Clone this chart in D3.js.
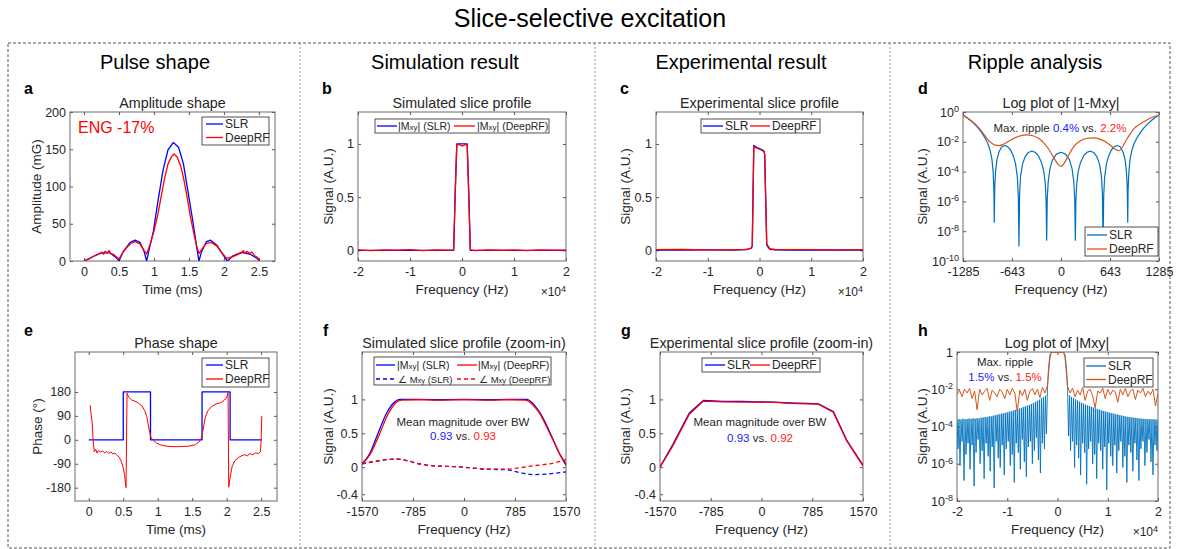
<!DOCTYPE html>
<html>
<head>
<meta charset="utf-8">
<script src="https://cdn.jsdelivr.net/npm/d3@7"></script>
<style>
  body { margin: 0; background: #fff; }
  svg text { font-family: Arial, "Liberation Sans", sans-serif; fill: #262626; }
</style>
</head>
<body>
<svg id="fig" width="1178" height="549"></svg>
<script>
// ---------- data ----------
// a: amplitude shape (time ms, mG)
const slrAmp = [[0,0],[0.13,6],[0.25,11],[0.37,11],[0.47,3.6],[0.5,0],[0.56,12.5],[0.66,25],[0.73,28],[0.8,25],[0.86,12.5],[0.895,0],
  [0.94,19],[0.99,39],[1.06,82],[1.13,122],[1.2,149],[1.276,159],[1.35,153],[1.42,131],[1.49,91],[1.56,51],[1.61,19],[1.643,0],
  [1.68,12.5],[1.75,26],[1.81,28],[1.9,21],[1.99,8],[2.05,0],[2.13,7],[2.25,11.6],[2.37,9.4],[2.47,3.6],[2.51,0]];
const deepAmp = [[0,0],[0.08,3],[0.15,7],[0.22,10],[0.26,12],[0.28,9],[0.3,13],[0.33,11],[0.36,14],[0.38,10],[0.42,9],[0.47,5],[0.5,2.7],
  [0.56,12],[0.62,19],[0.68,24],[0.73,26],[0.8,23],[0.86,14],[0.895,9.4],[0.95,24],[1.0,40],[1.05,60],[1.1,85],[1.15,110],[1.2,130],
  [1.25,140],[1.286,143.6],[1.33,140],[1.38,128],[1.42,113],[1.47,88],[1.52,60],[1.58,32],[1.62,17],[1.643,10],[1.7,18],[1.75,23.7],
  [1.82,25],[1.9,20],[1.97,11],[2.04,3.6],[2.13,5.8],[2.2,9],[2.25,11],[2.28,14],[2.3,10],[2.33,13],[2.37,10],[2.4,12],[2.44,7],[2.48,5],[2.51,0]];

// b: simulated slice profile (freq x1e4 Hz, signal)
const slrSim = [[-2,0],[-0.16,0],[-0.13,0.55],[-0.1,1],[0.1,1],[0.13,0.55],[0.16,0],[2,0]];
const deepSim = [[-2,0.004],[-1.75,-0.003],[-1.5,0.005],[-1.25,0.002],[-1,0.006],[-0.75,-0.002],[-0.5,0.004],[-0.25,0.003],[-0.16,0.005],
  [-0.13,0.55],[-0.1,0.99],[-0.05,0.995],[0,0.98],[0.05,0.99],[0.1,0.995],[0.13,0.5],[0.16,0.004],[0.25,-0.002],[0.5,0.005],
  [0.75,0.001],[1,0.004],[1.25,-0.002],[1.5,0.005],[1.75,0.002],[2,0.003]];

// c: experimental slice profile
const slrExp = [[-2,0.003],[-1.5,0.002],[-1,0.004],[-0.5,0.003],[-0.25,0.008],[-0.16,0.02],[-0.14,0.04],[-0.11,0.985],[-0.05,0.965],
  [0,0.955],[0.05,0.945],[0.09,0.93],[0.1,0.9],[0.14,0.05],[0.2,0.01],[0.3,0.005],[0.6,0.003],[1,0.002],[1.5,0.003],[2,0.002]];
const deepExp = [[-2,0.006],[-1.5,0.008],[-1,0.005],[-0.5,0.007],[-0.25,0.01],[-0.16,0.022],[-0.14,0.045],[-0.11,0.975],[-0.05,0.96],
  [0,0.95],[0.05,0.94],[0.09,0.925],[0.1,0.9],[0.14,0.06],[0.2,0.015],[0.3,0.008],[0.6,0.006],[1,0.007],[1.5,0.005],[2,0.006]];

// d: log plot of |1-Mxy| (Hz, log10 signal)
const rippleSlr = [[-1285,-0.2],[-1240,-0.35],[-1190,-0.55],[-1140,-0.78],[-1090,-1.05],[-1040,-1.38],[-1000,-1.7],[-960,-2.1],[-930,-2.55],
  [-905,-3.2],[-890,-4.0],[-880,-5.2],[-875,-7.4],[-868,-5.0],[-858,-4.0],[-840,-3.2],[-815,-2.7],[-780,-2.35],[-740,-2.25],[-700,-2.32],
  [-660,-2.55],[-625,-2.95],[-595,-3.5],[-572,-4.4],[-560,-5.6],[-551,-9.0],[-543,-5.5],[-530,-4.3],[-505,-3.5],[-470,-3.0],[-430,-2.72],
  [-385,-2.63],[-340,-2.7],[-295,-2.95],[-255,-3.4],[-225,-4.0],[-205,-4.9],[-195,-6.0],[-188,-8.6],[-180,-5.8],[-168,-4.7],[-145,-3.8],
  [-110,-3.2],[-60,-2.83],[0,-2.7],[60,-2.83],[110,-3.2],[145,-3.8],[168,-4.7],[180,-5.8],[188,-8.6],[195,-6.0],[205,-4.9],[225,-4.0],
  [255,-3.4],[295,-2.95],[340,-2.7],[385,-2.63],[430,-2.72],[470,-3.0],[505,-3.5],[530,-4.3],[543,-5.5],[551,-9.0],[560,-5.6],[572,-4.4],
  [595,-3.5],[625,-2.95],[660,-2.55],[700,-2.32],[740,-2.25],[780,-2.35],[815,-2.7],[840,-3.2],[858,-4.0],[868,-5.0],[875,-7.4],[880,-5.2],
  [890,-4.0],[905,-3.2],[930,-2.55],[960,-2.1],[1000,-1.7],[1040,-1.38],[1090,-1.05],[1140,-0.78],[1190,-0.55],[1240,-0.35],[1285,-0.2]];
const rippleDeep = [[-1285,-0.2],[-1200,-0.5],[-1106,-0.9],[-1040,-1.3],[-975,-1.75],[-920,-2.05],[-865,-2.22],[-810,-2.25],[-750,-2.15],
  [-680,-1.95],[-600,-1.72],[-520,-1.58],[-450,-1.53],[-380,-1.58],[-300,-1.75],[-230,-2.05],[-160,-2.5],[-90,-3.1],[-40,-3.5],[0,-3.65],
  [40,-3.45],[100,-2.9],[170,-2.3],[250,-1.95],[330,-1.78],[424,-1.73],[500,-1.8],[580,-1.98],[650,-2.25],[710,-2.5],[765,-2.6],
  [810,-2.3],[860,-1.85],[910,-1.45],[960,-1.1],[1040,-0.8],[1120,-0.55],[1200,-0.35],[1285,-0.2]];

// e: phase shape (time ms, degrees)
const slrPhase = [[0,0],[0.5,0],[0.5,180],[0.895,180],[0.895,0],[1.643,0],[1.643,180],[2.05,180],[2.05,0],[2.51,0]];
const deepPhase = [[0.02,130],[0.03,105],[0.035,95],[0.05,60],[0.06,10],[0.07,-20],[0.08,-45],[0.1,-35],[0.12,-50],[0.14,-40],[0.17,-46],
  [0.2,-42],[0.23,-49],[0.26,-44],[0.29,-51],[0.32,-46],[0.35,-53],[0.38,-50],[0.41,-58],[0.44,-65],[0.47,-80],[0.5,-105],[0.52,-135],
  [0.54,-180],[0.555,175],[0.58,160],[0.62,150],[0.67,145],[0.72,138],[0.77,128],[0.81,110],[0.84,90],[0.87,45],[0.9,10],[0.93,0],
  [0.98,-12],[1.05,-20],[1.15,-25],[1.3,-26],[1.45,-24],[1.55,-18],[1.6,-8],[1.63,5],[1.66,40],[1.69,85],[1.73,110],[1.78,125],
  [1.85,135],[1.92,140],[1.97,150],[2.0,160],[2.02,178],[2.03,-178],[2.05,-140],[2.08,-100],[2.12,-78],[2.18,-65],[2.22,-60],[2.26,-56],
  [2.3,-60],[2.34,-52],[2.38,-56],[2.42,-49],[2.46,-52],[2.49,-45],[2.5,0],[2.51,90]];

// f: simulated slice profile zoom-in (Hz)
const slrMagZoom = [[-1570,0.05],[-1450,0.2],[-1344,0.45],[-1190,0.8],[-1080,0.95],[-985,1.0],[-700,1.0],[-400,0.995],[0,1.0],[400,0.995],
  [700,1.0],[965,1.0],[1070,0.93],[1170,0.8],[1280,0.6],[1375,0.4],[1480,0.18],[1570,0.03]];
const deepMagZoom = [[-1570,0.05],[-1450,0.18],[-1330,0.42],[-1170,0.78],[-1060,0.94],[-960,0.99],[-700,0.995],[-400,0.99],[0,0.995],
  [400,0.99],[700,0.995],[940,0.99],[1050,0.93],[1160,0.8],[1270,0.6],[1370,0.4],[1470,0.2],[1570,0.05]];
const slrPhaseZoom = [[-1570,0.05],[-1400,0.08],[-1200,0.11],[-1030,0.12],[-850,0.09],[-700,0.05],[-574,0.03],[-400,0.015],[-216,0.01],
  [0,0],[200,-0.02],[350,-0.03],[660,-0.04],[850,-0.08],[1067,-0.11],[1300,-0.1],[1570,-0.07]];
const deepPhaseZoom = [[-1570,0.05],[-1400,0.08],[-1200,0.11],[-1030,0.12],[-850,0.09],[-700,0.05],[-574,0.03],[-400,0.015],[-216,0.01],
  [0,0],[200,-0.02],[350,-0.03],[500,-0.03],[660,-0.03],[850,-0.01],[1067,0.02],[1375,0.06],[1570,0.11]];

// g: experimental slice profile zoom-in
const slrExpZoom = [[-1570,0],[-1374,0.33],[-1117,0.8],[-900,0.985],[-600,0.97],[-300,0.97],[-75,0.965],[200,0.96],[441,0.95],
  [700,0.94],[879,0.935],[1111,0.82],[1317,0.4],[1570,0.03]];
const deepExpZoom = [[-1570,0],[-1374,0.31],[-1117,0.78],[-900,0.975],[-600,0.965],[-300,0.96],[-75,0.96],[200,0.955],[441,0.94],
  [700,0.935],[879,0.93],[1111,0.81],[1317,0.39],[1570,0.02]];

// h: log plot of |Mxy| (x1e4 Hz, log10 signal)
const hLobeStep = 0.04;
const hSlrLeftPeaks = [-3.62,-3.60,-3.63,-3.58,-3.61,-3.60,-3.57,-3.60,-3.56,-3.58,-3.55,-3.57,-3.53,-3.52,-3.50,-3.49,-3.46,-3.45,
  -3.42,-3.40,-3.37,-3.35,-3.32,-3.30,-3.27,-3.24,-3.21,-3.18,-3.15,-3.11,-3.08,-3.04,-3.00,-2.96,-2.92,-2.88,-2.84,-2.79,-2.74,-2.68,
  -2.62,-2.56,-2.49,-2.42,-2.35];
const hSlrLeftTroughs = [-5.2,-6.1,-4.8,-6.9,-5.5,-4.9,-6.3,-5.0,-7.2,-5.4,-4.7,-6.0,-5.3,-6.8,-4.9,-5.6,-6.4,-5.1,-7.3,-4.8,-5.7,-6.2,
  -5.0,-6.6,-5.2,-4.8,-6.1,-5.5,-7.0,-4.9,-5.4,-6.3,-4.7,-5.9,-6.7,-5.1,-4.8,-6.0,-5.3,-4.6,-5.8,-6.5,-4.9,-5.2,-4.4];
const hSlrPass = [[-0.2,-2.0],[-0.18,-0.9],[-0.15,-0.15],[-0.12,0],[0.12,0],[0.15,-0.15],[0.18,-0.9],[0.2,-2.0]];
const hSlrRightTroughs = [-4.5,-5.3,-4.8,-6.2,-5.0,-5.7,-6.6,-4.9,-5.4,-7.1,-5.2,-4.8,-6.0,-5.5,-6.8,-4.9,-5.3,-6.3,-5.1,-7.4,-4.9,-5.6,
  -6.1,-5.0,-6.5,-5.3,-4.8,-6.2,-5.6,-7.0,-5.0,-5.4,-6.4,-4.9,-5.8,-6.9,-5.2,-4.8,-6.1,-5.4,-4.7,-5.9,-6.6,-5.0,-5.3];
const hSlrRightPeaks = [-2.33,-2.41,-2.48,-2.55,-2.61,-2.67,-2.73,-2.78,-2.83,-2.87,-2.91,-2.95,-2.99,-3.03,-3.07,-3.10,-3.14,-3.17,
  -3.20,-3.23,-3.26,-3.29,-3.31,-3.34,-3.36,-3.39,-3.41,-3.44,-3.46,-3.48,-3.50,-3.51,-3.53,-3.54,-3.56,-3.57,-3.58,-3.59,-3.60,-3.61,
  -3.60,-3.62,-3.61,-3.63,-3.62];
const hDeepStep = 0.05;
const hDeepLeft = [-2.3,-2.05,-2.4,-2.0,-2.2,-1.95,-2.5,-2.1,-3.1,-2.0,-2.3,-2.1,-1.95,-2.6,-2.05,-2.2,-2.4,-2.0,-2.15,-2.5,-2.0,-2.3,
  -1.95,-2.2,-3.2,-2.05,-2.35,-2.0,-2.6,-2.1,-1.95,-2.3,-2.0,-2.45,-1.9,-2.2,-1.8];
const hDeepPass = [[-0.18,-1.2],[-0.15,-0.3],[-0.12,-0.01],[-0.06,-0.02],[0,-0.04],[0.06,-0.01],[0.12,0],[0.15,-0.3],[0.18,-1.2]];
const hDeepRight = [-1.85,-2.2,-1.95,-2.4,-2.05,-2.3,-1.9,-2.6,-2.1,-2.0,-2.35,-3.0,-2.1,-2.2,-1.95,-2.5,-2.0,-2.3,-2.05,-2.15,-2.7,
  -2.0,-2.3,-1.95,-2.4,-2.1,-2.0,-2.55,-2.05,-2.2,-1.95,-2.4,-2.1,-2.3,-2.0,-2.9,-2.2];

// tick values
const timeTicks = [0, 0.5, 1, 1.5, 2, 2.5];
const ampTicks = [0, 50, 100, 150, 200];
const freqTicks = [-2, -1, 0, 1, 2];
const signalTicks = [0, 0.5, 1];
const rippleFreqTicks = [-1285, -643, 0, 643, 1285];
const rippleExpTicks = [-10, -8, -6, -4, -2, 0];
const phaseTicks = [-180, -90, 0, 90, 180];
const zoomFreqTicks = [-1570, -785, 0, 785, 1570];
const zoomSignalTicks = [-0.4, 0, 0.5, 1];
const mxyExpTicks = [-8, -6, -4, -2, 0];

// ---------- drawing ----------
const svg = d3.select('#fig');
const BLUE = '#0000ff', RED = '#ff0000', MBLUE = '#0072bd', MORANGE = '#d95319';
const T1 = 112, B1 = 261, T2 = 352, B2 = 501;
let clipCount = 0;

function addParts(t, parts) {
  parts.forEach(p => {
    if (typeof p === 'string') p = { t: p };
    const s = t.append('tspan').text(p.t);
    if (p.size) s.attr('font-size', p.size);
    if (p.fill) s.style('fill', p.fill);
    if (p.dy) s.attr('dy', p.dy);
  });
  return t;
}

function supFormat(sel, oneAtZero) {
  sel.selectAll('.tick text').each(function(d) {
    const t = d3.select(this);
    const e = Math.round(Math.log10(d));
    t.text(null);
    if (oneAtZero && e === 0) { t.text('1'); return; }
    t.append('tspan').text('10');
    t.append('tspan').attr('dy', '-0.5em').attr('font-size', '9px').text(e);
  });
}

function makeAxes(o) {
  const g = svg.append('g');
  const x = d3.scaleLinear().domain(o.xDomain).range([o.x0, o.x1]);
  const y = (o.yLog ? d3.scaleLog() : d3.scaleLinear()).domain(o.yDomain).range([o.y1, o.y0]);
  const id = 'clip' + (clipCount++);
  svg.append('clipPath').attr('id', id).append('rect')
    .attr('x', o.x0).attr('y', o.y0).attr('width', o.x1 - o.x0).attr('height', o.y1 - o.y0);

  g.append('g').attr('transform', `translate(0,${o.y1})`)
    .call(d3.axisBottom(x).tickValues(o.xTicks).tickSizeInner(-3).tickSizeOuter(0).tickPadding(6).tickFormat(d => String(d)));
  g.append('g').attr('transform', `translate(0,${o.y0})`)
    .call(d3.axisTop(x).tickValues(o.xTicks).tickSizeInner(-3).tickSizeOuter(0).tickFormat(''));
  const left = g.append('g').attr('transform', `translate(${o.x0},0)`)
    .call(d3.axisLeft(y).tickValues(o.yTicks).tickSizeInner(-3).tickSizeOuter(0).tickPadding(4).tickFormat(d => String(d)));
  g.append('g').attr('transform', `translate(${o.x1},0)`)
    .call(d3.axisRight(y).tickValues(o.yTicks).tickSizeInner(-3).tickSizeOuter(0).tickFormat(''));
  g.selectAll('.domain').remove();
  g.selectAll('.tick line').attr('stroke', '#555');
  g.selectAll('.tick text').attr('font-size', 12.5).attr('font-family', 'Arial, "Liberation Sans", sans-serif').style('fill', '#262626');
  if (o.yLog) supFormat(left, o.oneAtZero);

  g.append('rect').attr('x', o.x0).attr('y', o.y0).attr('width', o.x1 - o.x0).attr('height', o.y1 - o.y0)
    .attr('fill', 'none').attr('stroke', '#6a6a6a').attr('stroke-width', 1);

  const cx = (o.x0 + o.x1) / 2;
  addParts(svg.append('text').attr('x', o.titleX || cx).attr('y', o.y0 - 4.5).attr('text-anchor', 'middle').attr('font-size', 14.3), o.title);
  svg.append('text').attr('x', cx).attr('y', o.y1 + 33).attr('text-anchor', 'middle').attr('font-size', 13.5).text(o.xLabel);
  svg.append('text').attr('transform', `translate(${o.yLabelX},${(o.y0 + o.y1) / 2}) rotate(-90)`)
    .attr('text-anchor', 'middle').attr('font-size', 13.5).text(o.yLabel);
  svg.append('text').attr('x', o.letter[1]).attr('y', o.letter[2]).attr('font-size', 16).attr('font-weight', 'bold')
    .style('fill', '#000').text(o.letter[0]);
  if (o.xExp) {
    addParts(svg.append('text').attr('x', o.x1).attr('y', o.y1 + 35).attr('text-anchor', 'end').attr('font-size', 12),
      ['\u00d710', { t: '4', size: '9px', dy: '-0.5em' }]);
  }
  return { x, y, clip: `url(#${id})`, log: !!o.yLog };
}

function addLine(ax, data, color, opts = {}) {
  const line = d3.line()
    .x(d => ax.x(d[0]))
    .y(d => ax.y(ax.log ? Math.pow(10, d[1]) : d[1]))
    .curve(opts.curve || d3.curveLinear);
  svg.append('path').datum(data).attr('clip-path', ax.clip)
    .attr('d', line).attr('fill', 'none').attr('stroke', color)
    .attr('stroke-width', opts.width || 1.3)
    .attr('stroke-dasharray', opts.dash || null)
    .attr('stroke-linejoin', 'round');
}

function addLegend(bx, by, bw, bh, items, size) {
  svg.append('rect').attr('x', bx).attr('y', by).attr('width', bw).attr('height', bh)
    .attr('fill', '#fff').attr('stroke', '#262626').attr('stroke-width', 0.8);
  items.forEach(it => {
    svg.append('line').attr('x1', bx + it.l0).attr('x2', bx + it.l1).attr('y1', by + it.y).attr('y2', by + it.y)
      .attr('stroke', it.color).attr('stroke-width', 1.3).attr('stroke-dasharray', it.dash || null);
    addParts(svg.append('text').attr('x', bx + it.tx).attr('y', by + it.y + 4).attr('font-size', it.size || size || 12), it.label);
  });
}

// ---------- frame and headers ----------
svg.append('text').attr('x', 590).attr('y', 27).attr('text-anchor', 'middle')
  .attr('font-family', 'Lato, sans-serif').attr('font-size', 25).style('fill', '#000').text('Slice-selective excitation');
svg.append('rect').attr('x', 8).attr('y', 43).attr('width', 1162).attr('height', 505)
  .attr('fill', 'none').attr('stroke', '#555').attr('stroke-dasharray', '3,2');
[300, 595, 890].forEach(xp => svg.append('line').attr('x1', xp).attr('x2', xp).attr('y1', 43).attr('y2', 548)
  .attr('stroke', '#999').attr('stroke-dasharray', '2,2'));
[['Pulse shape', 155], ['Simulation result', 445], ['Experimental result', 741], ['Ripple analysis', 1035]].forEach(h =>
  svg.append('text').attr('x', h[1]).attr('y', 69).attr('text-anchor', 'middle')
    .attr('font-family', 'Lato, sans-serif').attr('font-size', 20).style('fill', '#000').text(h[0]));

const mxy = (pre, post, sub) => [pre + 'M', { t: 'xy', size: sub || '8px' }, post];

// a
const axA = makeAxes({ x0: 70, x1: 275, y0: T1, y1: B1, xDomain: [-0.2, 2.73], yDomain: [0, 200], xTicks: timeTicks, yTicks: ampTicks,
  title: ['Amplitude shape'], xLabel: 'Time (ms)', yLabel: 'Amplitude (mG)', yLabelX: 41, letter: ['a', 24, 94] });
addLine(axA, slrAmp, BLUE);
addLine(axA, deepAmp, RED);
svg.append('text').attr('x', 78).attr('y', 133).attr('font-size', 16).style('fill', RED).text('ENG -17%');
addLegend(202, 117, 67, 28, [
  { l0: 4, l1: 21, y: 7, tx: 23, color: BLUE, label: ['SLR'] },
  { l0: 4, l1: 21, y: 20.5, tx: 23, color: RED, label: ['DeepRF'] }]);

// b
const axB = makeAxes({ x0: 358, x1: 566, y0: T1, y1: B1, xDomain: [-2, 2], yDomain: [-0.1, 1.3], xTicks: freqTicks, yTicks: signalTicks,
  title: ['Simulated slice profile'], xLabel: 'Frequency (Hz)', yLabel: 'Signal (A.U.)', yLabelX: 333, letter: ['b', 322, 94], xExp: true });
addLine(axB, slrSim, BLUE);
addLine(axB, deepSim, RED);
addLegend(375, 119, 174, 14, [
  { l0: 2, l1: 22, y: 7, tx: 23, color: BLUE, label: mxy('|', '|  (SLR)') },
  { l0: 79, l1: 100, y: 7, tx: 102, color: RED, label: mxy('|', '|  (DeepRF)') }], 10.5);

// c
const axC = makeAxes({ x0: 656, x1: 863, y0: T1, y1: B1, xDomain: [-2, 2], yDomain: [-0.1, 1.3], xTicks: freqTicks, yTicks: signalTicks,
  title: ['Experimental slice profile'], xLabel: 'Frequency (Hz)', yLabel: 'Signal (A.U.)', yLabelX: 630, letter: ['c', 620, 94], xExp: true });
addLine(axC, slrExp, BLUE);
addLine(axC, deepExp, RED);
addLegend(701, 119, 119, 14, [
  { l0: 2, l1: 22, y: 7, tx: 24, color: BLUE, label: ['SLR'] },
  { l0: 49, l1: 69, y: 7, tx: 71, color: RED, label: ['DeepRF'] }]);

// d
const axD = makeAxes({ x0: 963, x1: 1159, y0: T1, y1: B1, xDomain: [-1285, 1285], yDomain: [1e-10, 1], yLog: true,
  xTicks: rippleFreqTicks, yTicks: rippleExpTicks.map(e => Math.pow(10, e)),
  title: ['Log plot of |1-Mxy|'], xLabel: 'Frequency (Hz)', yLabel: 'Signal (A.U.)', yLabelX: 927, letter: ['d', 918, 94] });
addLine(axD, rippleSlr, MBLUE, { width: 1.2 });
addLine(axD, rippleDeep, MORANGE, { width: 1.2, curve: d3.curveMonotoneX });
addParts(svg.append('text').attr('x', 1060).attr('y', 132).attr('text-anchor', 'middle').attr('font-size', 11.5),
  ['Max. ripple ', { t: '0.4%', fill: '#2020ff' }, ' vs. ', { t: '2.2%', fill: '#ff2020' }]);
addLegend(1085, 227, 73, 29, [
  { l0: 2, l1: 22, y: 8, tx: 24, color: MBLUE, label: ['SLR'] },
  { l0: 2, l1: 22, y: 22, tx: 24, color: MORANGE, label: ['DeepRF'] }]);

// e
const axE = makeAxes({ x0: 75, x1: 277, y0: T2, y1: B2, xDomain: [-0.2, 2.73], yDomain: [-230, 330], xTicks: timeTicks, yTicks: phaseTicks,
  title: ['Phase shape'], xLabel: 'Time (ms)', yLabel: 'Phase (\u00b0)', yLabelX: 42, letter: ['e', 24, 336] });
addLine(axE, slrPhase, BLUE);
addLine(axE, deepPhase, RED, { width: 1 });
addLegend(202, 358, 67, 29, [
  { l0: 4, l1: 21, y: 7, tx: 23, color: BLUE, label: ['SLR'] },
  { l0: 4, l1: 21, y: 21, tx: 23, color: RED, label: ['DeepRF'] }]);

// f
const axF = makeAxes({ x0: 362, x1: 566, y0: T2, y1: B2, xDomain: [-1570, 1570], yDomain: [-0.5, 1.7], xTicks: zoomFreqTicks, yTicks: zoomSignalTicks,
  title: ['Simulated slice profile (zoom-in)'], xLabel: 'Frequency (Hz)', yLabel: 'Signal (A.U.)', yLabelX: 333, letter: ['f', 323, 336] });
addLine(axF, slrPhaseZoom, BLUE, { dash: '4,3', curve: d3.curveMonotoneX });
addLine(axF, deepPhaseZoom, RED, { dash: '4,3', curve: d3.curveMonotoneX });
addLine(axF, slrMagZoom, BLUE, { curve: d3.curveMonotoneX });
addLine(axF, deepMagZoom, RED, { curve: d3.curveMonotoneX });
addLegend(374, 357, 177, 28, [
  { l0: 2, l1: 21, y: 8, tx: 23, color: BLUE, label: mxy('|', '|  (SLR)') },
  { l0: 83, l1: 103, y: 8, tx: 104, color: RED, label: mxy('|', '|  (DeepRF)') },
  { l0: 2, l1: 21, y: 22, tx: 24, color: BLUE, dash: '4,3', size: 9.5, label: mxy('\u2220 ', ' (SLR)', '7.5px') },
  { l0: 83, l1: 103, y: 22, tx: 105, color: RED, dash: '4,3', size: 9.5, label: mxy('\u2220 ', ' (DeepRF)', '7.5px') }], 10.5);
addParts(svg.append('text').attr('x', 463).attr('y', 425.5).attr('text-anchor', 'middle').attr('font-size', 11.5), ['Mean magnitude over BW']);
addParts(svg.append('text').attr('x', 463).attr('y', 439.5).attr('text-anchor', 'middle').attr('font-size', 11.5),
  [{ t: '0.93', fill: '#2020ff' }, ' vs. ', { t: '0.93', fill: '#ff2020' }]);

// g
const axG = makeAxes({ x0: 660, x1: 863, y0: T2, y1: B2, xDomain: [-1570, 1570], yDomain: [-0.5, 1.7], xTicks: zoomFreqTicks, yTicks: zoomSignalTicks,
  title: ['Experimental slice profile (zoom-in)'], xLabel: 'Frequency (Hz)', yLabel: 'Signal (A.U.)', yLabelX: 630, letter: ['g', 621, 336] });
addLine(axG, slrExpZoom, BLUE);
addLine(axG, deepExpZoom, RED);
addLegend(702, 358, 118, 14, [
  { l0: 3, l1: 23, y: 7, tx: 25, color: BLUE, label: ['SLR'] },
  { l0: 48, l1: 68, y: 7, tx: 70, color: RED, label: ['DeepRF'] }]);
addParts(svg.append('text').attr('x', 760).attr('y', 425.5).attr('text-anchor', 'middle').attr('font-size', 11.5), ['Mean magnitude over BW']);
addParts(svg.append('text').attr('x', 760).attr('y', 441.5).attr('text-anchor', 'middle').attr('font-size', 11.5),
  [{ t: '0.93', fill: '#2020ff' }, ' vs. ', { t: '0.92', fill: '#ff2020' }]);

// h
const axH = makeAxes({ x0: 957, x1: 1158, y0: T2, y1: B2, xDomain: [-2, 2], yDomain: [1e-8, 1], yLog: true, oneAtZero: true,
  xTicks: freqTicks, yTicks: mxyExpTicks.map(e => Math.pow(10, e)),
  title: ['Log plot of |Mxy|'], titleX: 1057, xLabel: 'Frequency (Hz)', yLabel: 'Signal (A.U.)', yLabelX: 927, letter: ['h', 918, 336], xExp: true });
const hSlr = [];
hSlrLeftPeaks.forEach((p, i) => {
  hSlr.push([-2 + i * hLobeStep, p]);
  hSlr.push([-2 + i * hLobeStep + hLobeStep / 2, hSlrLeftTroughs[i]]);
});
hSlrPass.forEach(d => hSlr.push(d));
hSlrRightTroughs.forEach((t, i) => {
  hSlr.push([0.22 + i * hLobeStep, t]);
  hSlr.push([0.24 + i * hLobeStep, hSlrRightPeaks[i]]);
});
const hDeep = hDeepLeft.map((v, i) => [-2 + i * hDeepStep, v])
  .concat(hDeepPass)
  .concat(hDeepRight.map((v, i) => [0.2 + i * hDeepStep, v]));
addLine(axH, hSlr, MBLUE, { width: 0.9 });
addLine(axH, hDeep, MORANGE, { width: 1 });
addParts(svg.append('text').attr('x', 1005).attr('y', 366).attr('text-anchor', 'middle').attr('font-size', 11.5), ['Max. ripple']);
addParts(svg.append('text').attr('x', 1005).attr('y', 381).attr('text-anchor', 'middle').attr('font-size', 11.5),
  [{ t: '1.5%', fill: '#2020ff' }, ' vs. ', { t: '1.5%', fill: '#ff2020' }]);
addLegend(1084, 358, 69, 29, [
  { l0: 2, l1: 22, y: 8, tx: 24, color: MBLUE, label: ['SLR'] },
  { l0: 2, l1: 22, y: 21.5, tx: 24, color: MORANGE, label: ['DeepRF'] }]);
</script>
</body>
</html>
